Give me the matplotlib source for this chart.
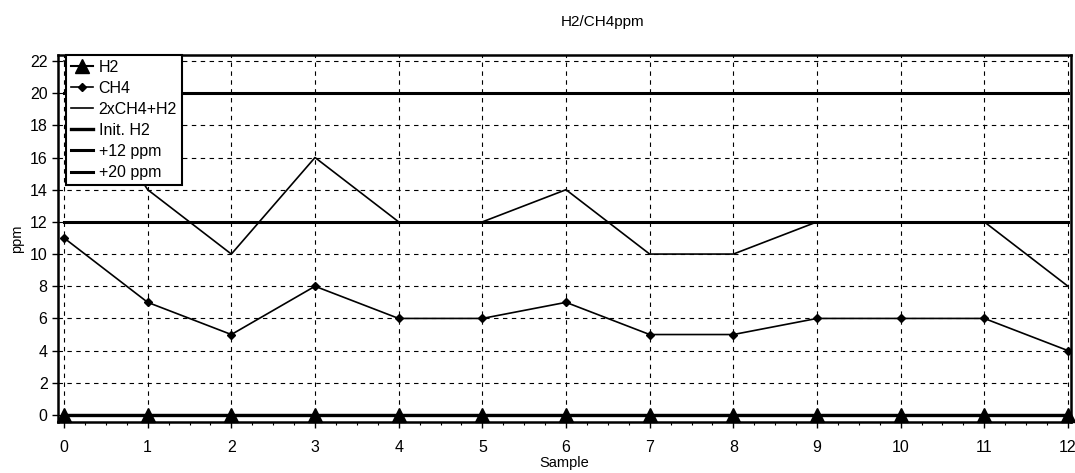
"""H2/CH4 ppm per sample, redrawn from a scanned report chart."""

import matplotlib

matplotlib.use("Agg")

import matplotlib.pyplot as plt
import numpy as np
from matplotlib.ticker import MultipleLocator

plt.rcParams["font.family"] = ["Liberation Sans", "DejaVu Sans"]

samples = list(range(13))
h2 = [0, 0, 0, 0, 0, 0, 0, 0, 0, 0, 0, 0, 0]
ch4 = [11, 7, 5, 8, 6, 6, 7, 5, 5, 6, 6, 6, 4]
init_h2 = 0
plus_12 = 12
plus_20 = 20
y_ticks = list(range(0, 23, 2))

x = np.array(samples)
h2_arr = np.array(h2, dtype=float)
ch4_arr = np.array(ch4, dtype=float)
total = 2 * ch4_arr + h2_arr

fig = plt.figure(figsize=(10.75, 4.73), dpi=100)
ax = fig.add_axes([58 / 1075, 1 - 422 / 473, (1071 - 58) / 1075, (422 - 55) / 473])

ax.plot(x, h2_arr, color="black", lw=1.5, marker="^", ms=10, clip_on=False,
        zorder=5, label="H2")
ax.plot(x, ch4_arr, color="black", lw=1.2, marker="D", ms=4.5, zorder=4,
        label="CH4")
ax.plot(x, total, color="black", lw=1.2, zorder=4, label="2xCH4+H2")
ax.plot(x, np.full_like(x, init_h2, dtype=float), color="black", lw=2.4,
        zorder=4, label="Init. H2")
ax.plot(x, np.full_like(x, plus_12, dtype=float), color="black", lw=2.2,
        zorder=4, label="+12 ppm")
ax.plot(x, np.full_like(x, plus_20, dtype=float), color="black", lw=2.2,
        zorder=4, label="+20 ppm")

ax.set_xlim(-0.072, 12.036)
ax.set_ylim(-0.435, 22.37)
ax.set_xticks(samples)
ax.set_yticks(y_ticks)
ax.xaxis.set_minor_locator(MultipleLocator(0.25))
ax.tick_params(axis="both", which="major", labelsize=11.5, length=4, width=1,
               color="black")
ax.tick_params(axis="x", which="major", pad=9)
ax.tick_params(axis="x", which="minor", length=2, width=0.8)

ax.grid(True, which="major", color="black", lw=0.8, ls=(0, (4, 4)))
ax.set_axisbelow(True)
for spine in ax.spines.values():
    spine.set_linewidth(1.8)
    spine.set_color("black")

ax.set_xlabel("Sample", fontsize=10.5, labelpad=1)
ax.set_ylabel("ppm", fontsize=10.5, labelpad=4)
fig.text(603 / 1075, 1 - 22 / 473, "H2/CH4ppm", fontsize=11,
         ha="center", va="center")

leg = ax.legend(loc="upper left", bbox_to_anchor=(66 / 1075, 1 - 55 / 473),
                bbox_transform=fig.transFigure, borderaxespad=0,
                fontsize=11.5, handlelength=1.4, handletextpad=0.35,
                labelspacing=0.38, borderpad=0.3, fancybox=False,
                framealpha=1, edgecolor="black")
leg.get_frame().set_linewidth(1.5)
leg.set_zorder(10)

fig.savefig("out.png", dpi=100)
plt.close(fig)
